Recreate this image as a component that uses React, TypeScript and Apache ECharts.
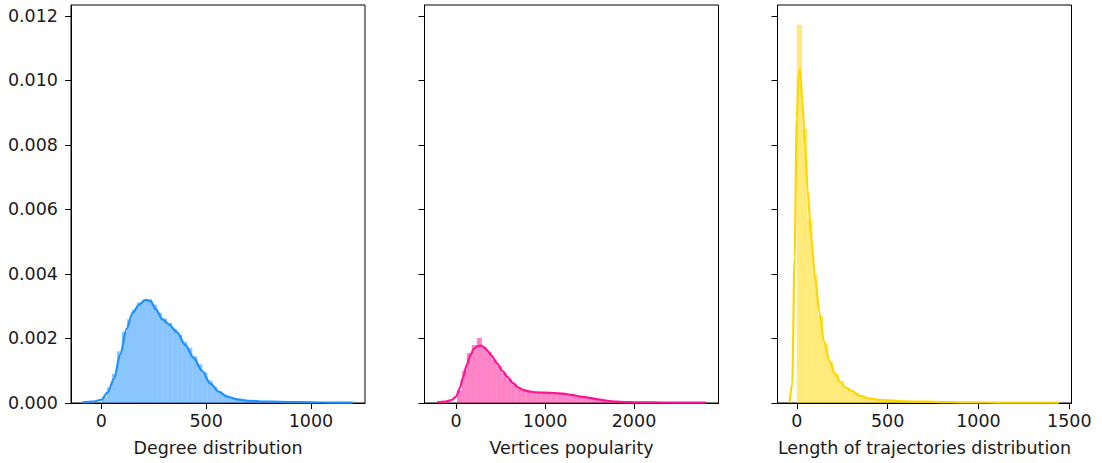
import React, { useEffect, useRef } from "react";
import * as echarts from "echarts";

// ---------- tick labels ----------
const yTicks = [0, 0.002, 0.004, 0.006, 0.008, 0.01, 0.012];
const degreeXTicks = [0, 500, 1000];
const popularityXTicks = [0, 1000, 2000];
const lengthXTicks = [0, 500, 1000, 1500];

const axisNames = ["Degree distribution", "Vertices popularity", "Length of trajectories distribution"];

// ---------- panel 1: degree distribution ----------
const degreeBinStart = 2;
const degreeBinWidth = 24;
const degreeHist = [
  0.00018, 0.00048, 0.0009, 0.0016, 0.0022, 0.0026, 0.0029, 0.00312, 0.0032, 0.00322,
  0.00305, 0.0028, 0.00262, 0.00248, 0.0023, 0.00212, 0.0019, 0.0017, 0.00145, 0.0012,
  0.00095, 0.0007, 0.0005, 0.00036, 0.00026, 0.00018, 0.00013, 0.0001, 0.00008, 0.00007,
  0.00006, 0.00005, 0.00004, 0.00004, 0.00003, 0.00003, 0.00003, 0.00002, 0.00002, 0.00002,
  0.00002, 0.00002, 0.00001, 0.00001, 0.00001, 0.00001, 0.00001, 0.00001, 0.00001, 0.00001,
];
const degreeKdeX = [-90, -40, 0, 30, 60, 90, 120, 150, 180, 210, 235, 260, 290, 320, 360, 400, 440, 480, 520, 560, 600, 650, 700, 800, 900, 1000, 1100, 1200];
const degreeKdeY = [
  0.00002, 0.00004, 0.0001, 0.00033, 0.00075, 0.0015, 0.0023, 0.0028, 0.00305, 0.0032,
  0.00316, 0.0029, 0.0026, 0.00245, 0.0022, 0.0018, 0.0014, 0.001, 0.0006, 0.00035,
  0.0002, 0.00011, 0.00007, 0.00004, 0.00003, 0.00002, 0.00001, 0.00001,
];

// ---------- panel 2: vertices popularity ----------
const popularityBinStart = 10;
const popularityBinWidth = 56;
const popularityHist = [
  0.0004, 0.001, 0.00155, 0.0018, 0.00202, 0.0017, 0.00158, 0.00135, 0.00115, 0.00093,
  0.00075, 0.0006, 0.00046, 0.0004, 0.00036, 0.00034, 0.00033, 0.00033, 0.00031, 0.00032,
  0.0003, 0.00028, 0.00026, 0.00024, 0.00021, 0.00019, 0.00017, 0.00014, 0.0001, 0.00008,
  0.00005, 0.00004, 0.00003, 0.00003, 0.00002, 0.00002, 0.00002, 0.00002, 0.00001, 0.00001,
  0.00001, 0.00001, 0.00001, 0.00001, 0.00001, 0.00001, 0.000005, 0.000005, 0.000005, 0.000005,
];
const popularityKdeX = [-215, -120, -50, 0, 40, 80, 120, 160, 200, 240, 280, 320, 360, 400, 460, 520, 580, 640, 700, 760, 830, 900, 1000, 1100, 1200, 1300, 1400, 1500, 1600, 1700, 1800, 1900, 2000, 2200, 2400, 2600, 2810];
const popularityKdeY = [
  0.00002, 0.00004, 0.00009, 0.0002, 0.00045, 0.0008, 0.00118, 0.00148, 0.00168, 0.00176,
  0.00178, 0.00172, 0.0016, 0.00146, 0.00123, 0.001, 0.0008, 0.00062, 0.00048, 0.0004,
  0.00035, 0.00033, 0.00032, 0.00031, 0.00029, 0.00025, 0.0002, 0.00016, 0.00011, 0.00007,
  0.00004, 0.00003, 0.00002, 0.00002, 0.00001, 0.00001, 0.00001,
];

// ---------- panel 3: length of trajectories ----------
const lengthBinStart = 0;
const lengthBinWidth = 29;
const lengthHist = [
  0.01173, 0.0085, 0.0057, 0.004, 0.0027, 0.00185, 0.0013, 0.0009, 0.00068, 0.0005,
  0.00038, 0.0003, 0.00024, 0.00018, 0.00014, 0.00012, 0.0001, 0.00009, 0.00008, 0.00007,
  0.00006, 0.00005, 0.00005, 0.00004, 0.00004, 0.00004, 0.00003, 0.00003, 0.00003, 0.00003,
  0.00002, 0.00002, 0.00002, 0.00002, 0.00002, 0.00002, 0.00002, 0.00001, 0.00001, 0.00001,
  0.00001, 0.00001, 0.00001, 0.00001, 0.00001, 0.00001, 0.00001, 0.00001, 0.00001, 0.00001,
];
const lengthKdeX = [-40, -25, -12, 0, 10, 18, 30, 45, 60, 80, 100, 125, 150, 180, 210, 240, 270, 300, 350, 400, 450, 500, 600, 700, 800, 900, 1000, 1100, 1200, 1300, 1443];
const lengthKdeY = [
  0.00002, 0.0006, 0.0045, 0.0088, 0.0102, 0.01035, 0.0094, 0.008, 0.0066, 0.0051,
  0.0039, 0.0028, 0.0019, 0.0013, 0.0009, 0.00065, 0.00048, 0.00038, 0.00022, 0.00014,
  0.0001, 0.00008, 0.00005, 0.00004, 0.00003, 0.00002, 0.00002, 0.00001, 0.00001, 0.00001, 0.00001,
];

const FONT = "DejaVu Sans";
const TEXT = "#1a1a1a";

function histData(start: number, width: number, h: number[]) {
  return h.map((v, i) => [start + i * width, start + (i + 1) * width, v]);
}
function kdeData(xs: number[], ys: number[]) {
  return xs.map((x, i) => [x, ys[i]]);
}

export default function App() {
  const ref = useRef<HTMLDivElement>(null);
  useEffect(() => {
    if (!ref.current) return;
    const chart = echarts.init(ref.current, null, { renderer: "svg" });

    const panels = [
      { left: 71, min: -145, max: 1258, ticks: degreeXTicks, color: "#1E90FF", fill: "rgba(30,144,255,0.52)", hist: histData(degreeBinStart, degreeBinWidth, degreeHist), kde: kdeData(degreeKdeX, degreeKdeY) },
      { left: 424.5, min: -355, max: 2950, ticks: popularityXTicks, color: "#FF1493", fill: "rgba(255,20,147,0.52)", hist: histData(popularityBinStart, popularityBinWidth, popularityHist), kde: kdeData(popularityKdeX, popularityKdeY) },
      { left: 777.5, min: -106, max: 1512, ticks: lengthXTicks, color: "#FFD700", fill: "rgba(255,215,0,0.52)", hist: histData(lengthBinStart, lengthBinWidth, lengthHist), kde: kdeData(lengthKdeX, lengthKdeY) },
    ];

    const grid: any[] = [];
    const xAxis: any[] = [];
    const yAxis: any[] = [];
    const series: any[] = [];

    panels.forEach((p, i) => {
      grid.push({ left: p.left, top: 5, width: 294, height: 398, show: true, borderColor: "#000", borderWidth: 1, backgroundColor: "#fff" });
      xAxis.push({
        type: "value", gridIndex: i, min: p.min, max: p.max,
        name: axisNames[i], nameLocation: "middle", nameGap: 36,
        nameTextStyle: { fontFamily: FONT, fontSize: 17.5, color: TEXT },
        axisLine: { show: true, onZero: false, lineStyle: { color: "#000", width: 1 } },
        axisTick: { show: true, inside: false, length: 6, customValues: p.ticks, lineStyle: { color: "#000", width: 1 } },
        axisLabel: { show: true, margin: 9, customValues: p.ticks, fontFamily: FONT, fontSize: 17.5, color: TEXT, formatter: (v: number) => String(v) },
        splitLine: { show: false },
      });
      yAxis.push({
        type: "value", gridIndex: i, min: 0, max: 0.01234,
        axisLine: { show: true, onZero: false, lineStyle: { color: "#000", width: 1 } },
        axisTick: { show: true, length: 6, customValues: yTicks, lineStyle: { color: "#000", width: 1 } },
        axisLabel: { show: i === 0, margin: 13, customValues: yTicks, fontFamily: FONT, fontSize: 17.5, color: TEXT, formatter: (v: number) => v.toFixed(3) },
        splitLine: { show: false },
      });
      const fill = p.fill;
      series.push({
        type: "custom", xAxisIndex: i, yAxisIndex: i, data: p.hist, encode: { x: [0, 1], y: 2 },
        clip: true,
        renderItem: (params: any, api: any) => {
          const a = api.coord([api.value(0), api.value(2)]);
          const b = api.coord([api.value(1), 0]);
          return { type: "rect", shape: { x: a[0], y: a[1], width: b[0] - a[0], height: b[1] - a[1] }, style: { fill } };
        },
      });
      series.push({
        type: "line", xAxisIndex: i, yAxisIndex: i, data: p.kde, showSymbol: false, symbol: "none",
        smooth: 0.3, smoothMonotone: "x",
        lineStyle: { color: p.color, width: 2.2 }, z: 3,
      });
    });

    chart.setOption({ animation: false, backgroundColor: "#fff", grid, xAxis, yAxis, series });
    return () => chart.dispose();
  }, []);
  return <div ref={ref} style={{ position: "absolute", left: 0, top: 0, width: 1102, height: 463 }} />;
}
